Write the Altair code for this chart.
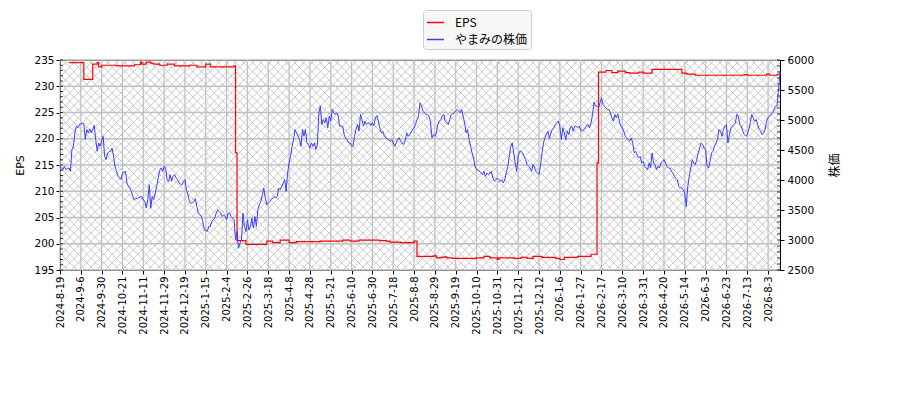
import json
import numpy as np
import pandas as pd
import altair as alt

# x axis: one point per trading day, a date label every 14 trading days
tick_labels = [
    "2024-8-19", "2024-9-6", "2024-9-30", "2024-10-21", "2024-11-11", "2024-11-29",
    "2024-12-19", "2025-1-15", "2025-2-4", "2025-2-26", "2025-3-18", "2025-4-8",
    "2025-4-28", "2025-5-21", "2025-6-10", "2025-6-30", "2025-7-18", "2025-8-8",
    "2025-8-29", "2025-9-19", "2025-10-10", "2025-10-31", "2025-11-21", "2025-12-12",
    "2026-1-6", "2026-1-27", "2026-2-17", "2026-3-10", "2026-3-31", "2026-4-20",
    "2026-5-14", "2026-6-3", "2026-6-23", "2026-7-13", "2026-8-3",
]
tick_step = 14

# stock price, one value per trading day
price = [
    4228, 4200, 4172, 4228, 4172, 4190, 4200, 4144, 4506, 4562,
    4785, 4897, 4869, 4925, 4935, 4941, 4941, 4674, 4841, 4785,
    4852, 4785, 4841, 4908, 4674, 4479, 4618, 4562, 4646, 4729,
    4395, 4339, 4451, 4470, 4479, 4534, 4395, 4228, 4144, 4060,
    4030, 4005, 4116, 4130, 4144, 3949, 3893, 3865, 3810, 3726,
    3670, 3690, 3698, 3698, 3726, 3726, 3670, 3643, 3531, 3670,
    3921, 3531, 3726, 3670, 3782, 3893, 4033, 4161, 4200, 4144,
    4228, 4200, 4005, 3977, 4089, 3977, 4060, 4089, 4033, 4005,
    3949, 3935, 3921, 3977, 4005, 3838, 3754, 3643, 3615, 3615,
    3643, 3687, 3559, 3448, 3420, 3392, 3308, 3169, 3160, 3141,
    3225, 3225, 3308, 3336, 3364, 3448, 3503, 3475, 3448, 3392,
    3420, 3392, 3336, 3448, 3448, 3392, 3364, 3336, 3002, 3141,
    2862, 2946, 3002, 3448, 3225, 3141, 3336, 3169, 3225, 3364,
    3197, 3392, 3225, 3503, 3587, 3643, 3754, 3865, 3700, 3587,
    3615, 3643, 3670, 3700, 3726, 3698, 3726, 3865, 3838, 3893,
    3949, 4005, 3810, 4116, 4284, 4395, 4562, 4674, 4841, 4785,
    4729, 4674, 4562, 4841, 4729, 4841, 4618, 4590, 4534, 4618,
    4562, 4618, 4506, 4590, 5120, 5231, 4925, 5008, 4952, 5036,
    4869, 5064, 4980, 5175, 5120, 5092, 5120, 5064, 4897, 4897,
    4897, 4757, 4702, 4674, 4618, 4618, 4562, 4562, 4729, 4841,
    4925, 4813, 5092, 5008, 4897, 4980, 4925, 4952, 4952, 4908,
    4952, 4908, 5036, 5075, 4980, 4869, 4785, 4813, 4740, 4702,
    4685, 4674, 4646, 4674, 4618, 4562, 4618, 4674, 4702, 4646,
    4618, 4590, 4646, 4785, 4729, 4757, 4800, 4841, 4869, 4925,
    5008, 5064, 5287, 5231, 5147, 5120, 5092, 5092, 5064, 4980,
    4702, 4757, 4729, 4785, 4925, 4980, 5008, 5064, 5092, 4980,
    4950, 4925, 5008, 5092, 5100, 5120, 5150, 5175, 5150, 5120,
    5175, 5064, 4952, 4785, 4841, 4674, 4562, 4451, 4367, 4228,
    4172, 4160, 4144, 4116, 4089, 4144, 4060, 4116, 4089, 4116,
    4144, 4033, 3977, 4005, 4033, 4010, 3977, 4005, 3949, 4005,
    4116, 4228, 4395, 4562, 4618, 4451, 4284, 4144, 4395, 4479,
    4479, 4451, 4395, 4339, 4256, 4230, 4200, 4144, 4260, 4200,
    4144, 4116, 4089, 4250, 4450, 4620, 4702, 4770, 4813, 4685,
    4785, 4841, 4869, 4925, 4960, 4980, 4897, 4674, 4869, 4785,
    4674, 4813, 4757, 4869, 4897, 4813, 4897, 4897, 4869, 4897,
    4830, 4813, 4841, 4869, 4908, 4925, 4869, 4952, 5092, 5298,
    5231, 5231, 5203, 5287, 5370, 5260, 5231, 5203, 5175, 5175,
    5120, 5036, 4980, 5092, 5036, 5092, 4980, 4897, 4869, 4813,
    4729, 4700, 4674, 4646, 4702, 4618, 4451, 4479, 4420, 4367,
    4395, 4284, 4311, 4228, 4200, 4172, 4284, 4200, 4451, 4284,
    4256, 4172, 4228, 4200, 4284, 4311, 4339, 4284, 4228, 4200,
    4200, 4144, 4116, 4060, 4030, 4005, 3893, 3866, 3866, 3838,
    3782, 3559, 3893, 4060, 4200, 4339, 4284, 4256, 4339, 4451,
    4534, 4618, 4590, 4534, 4506, 4228, 4200, 4311, 4451, 4479,
    4562, 4618, 4674, 4841, 4813, 4729, 4841, 4897, 4925, 4618,
    4757, 4869, 4897, 4925, 4952, 5092, 5064, 4925, 4897, 4813,
    4757, 4729, 4757, 4841, 4952, 5092, 5036, 4980, 5008, 4925,
    4841, 4813, 4757, 4785, 4841, 4980, 5036, 5064, 5092, 5120,
    5175, 5231, 5231, 5500, 5788,
]

# EPS: trading day where the value changes, and the new value
eps_day = [
    6, 16, 22, 25, 26, 28, 38, 50, 54, 55, 58, 61, 63, 67, 72, 77, 87, 92, 98, 101,
    117, 118, 119, 125, 139, 143, 148, 154, 159, 175, 190, 195, 201, 215, 219, 222,
    229, 238, 240, 251, 253, 256, 258, 260, 264, 280, 285, 289, 294, 295, 305, 310,
    314, 318, 324, 333, 336, 339, 348, 357, 361, 362, 367, 371, 375, 380, 383, 389,
    392, 398, 418, 421, 427, 460, 462, 475, 477, 482, 484,
]
eps_val = [
    234.5, 231.3, 234.2, 234.5, 233.7, 234.0, 233.9, 234.1, 234.6, 234.2, 234.6, 234.4,
    234.2, 234.0, 234.2, 233.9, 234.0, 233.7, 234.2, 233.7,
    233.9, 217.3, 200.6, 199.9, 200.5, 200.2, 200.7, 200.2, 200.4, 200.5, 200.7, 200.5,
    200.7, 200.6, 200.5, 200.3,
    200.2, 200.5, 197.6, 197.7, 197.3, 197.4, 197.5, 197.3, 197.2, 197.3, 197.6, 197.3,
    197.0, 197.3, 197.2, 197.4,
    197.2, 197.6, 197.4, 197.2, 197.0, 197.4, 197.6, 198.0, 215.4, 232.7, 233.0, 232.6,
    232.9, 232.6, 232.5, 232.7,
    232.5, 233.2, 232.5, 232.3, 232.1, 232.2, 232.1, 232.3, 232.1, 232.2, 232.2,
]

series_names = ["EPS", "やまみの株価"]
series_colors = ["#ff0000", "#3c3cff"]

eps_ticks = list(range(195, 236, 5))
eps_minor_ticks = list(range(195, 236, 1))
price_ticks = list(range(2500, 6001, 500))
price_minor_ticks = list(range(2500, 6001, 100))

W, H = 720, 210
x_max = len(price) - 1
tick_days = [i * tick_step for i in range(len(tick_labels))]

price_df = pd.DataFrame({"day": range(len(price)), "price": price, "series": series_names[1]})
eps_df = pd.DataFrame({"day": eps_day, "eps": eps_val, "series": series_names[0]})

# cross hatch of the plot background, 45 degree lines
step = 8.5 * x_max / W
span = H * x_max / W
starts = np.arange(-span, x_max + step, step)
hatch_df = pd.concat([
    pd.DataFrame({"hx": starts, "hx2": starts + span, "hy": 195, "hy2": 235}),
    pd.DataFrame({"hx": starts, "hx2": starts + span, "hy": 235, "hy2": 195}),
])

x_scale = alt.Scale(domain=[0, x_max], nice=False, zero=False)
eps_scale = alt.Scale(domain=[195, 235], nice=False, zero=False)
price_scale = alt.Scale(domain=[2500, 6000], nice=False, zero=False)
color_scale = alt.Scale(domain=series_names, range=series_colors)

x_axis = alt.Axis(
    values=tick_days,
    labelExpr=f"{json.dumps(tick_labels)}[round(datum.value / {tick_step})]",
    labelAngle=270, labelFontSize=10, labelOverlap=False, labelBound=False,
    grid=False, title=None, tickSize=4, labelPadding=2,
)
eps_axis = alt.Axis(values=eps_ticks, grid=False, title="EPS", orient="left",
                    tickSize=4, labelPadding=2, titlePadding=8)
price_axis = alt.Axis(values=price_ticks, format="d", grid=False, title="株価", orient="right",
                      tickSize=4, labelPadding=3, titlePadding=28, titleAngle=270,
                      titleFont="Noto Sans CJK JP", titleFontSize=12)

legend = alt.Legend(
    title=None, orient="none", legendX=363, legendY=-50,
    symbolType="stroke", symbolSize=289, symbolStrokeWidth=1.5,
    labelFont="Noto Sans CJK JP", labelFontSize=12, labelOffset=10,
    padding=3, rowPadding=1, strokeColor="#cccccc", fillColor="#f7f7f7", cornerRadius=3,
)

hatch = alt.Chart(hatch_df).mark_rule(color="#a0a0a0", strokeWidth=0.55, clip=True).encode(
    x=alt.X("hx:Q", scale=x_scale, axis=x_axis),
    x2="hx2:Q",
    y=alt.Y("hy:Q", scale=eps_scale, axis=eps_axis),
    y2="hy2:Q",
)

vgrid = alt.Chart(pd.DataFrame({"day": tick_days})).mark_rule(color="#c0c0c0", strokeWidth=1.3).encode(
    x=alt.X("day:Q", scale=x_scale, axis=x_axis)
)

hgrid = alt.Chart(pd.DataFrame({"eps": eps_ticks})).mark_rule(color="#c0c0c0", strokeWidth=1.3).encode(
    y=alt.Y("eps:Q", scale=eps_scale, axis=eps_axis)
)

eps_minor = alt.Chart(pd.DataFrame({"eps": eps_minor_ticks})).mark_rule(color="black", strokeWidth=0.8).encode(
    y=alt.Y("eps:Q", scale=eps_scale, axis=eps_axis),
    x=alt.value(0),
    x2=alt.value(3),
)

eps_line = alt.Chart(eps_df).mark_line(interpolate="step-after", strokeWidth=1.2).encode(
    x=alt.X("day:Q", scale=x_scale, axis=x_axis),
    y=alt.Y("eps:Q", scale=eps_scale, axis=eps_axis),
    color=alt.Color("series:N", scale=color_scale, legend=legend),
)

price_minor = alt.Chart(pd.DataFrame({"price": price_minor_ticks})).mark_rule(color="black", strokeWidth=0.8).encode(
    y=alt.Y("price:Q", scale=price_scale, axis=price_axis),
    x=alt.value(W - 3),
    x2=alt.value(W),
)

price_line = alt.Chart(price_df).mark_line(strokeWidth=1).encode(
    x=alt.X("day:Q", scale=x_scale, axis=x_axis),
    y=alt.Y("price:Q", scale=price_scale, axis=price_axis),
    color=alt.Color("series:N", scale=color_scale, legend=legend),
)

left = alt.layer(hatch, vgrid, hgrid, eps_minor, eps_line)
right = alt.layer(price_minor, price_line)

chart = alt.layer(left, right).resolve_scale(y="independent").properties(
    width=W, height=H,
    padding={"left": 52, "top": 52, "right": 112, "bottom": 110},
    autosize=alt.AutoSizeParams(type="none"),
).configure_view(
    stroke="black", strokeWidth=1
).configure_axis(
    domainColor="black", tickColor="black", labelColor="black", titleColor="black",
    labelFont="DejaVu Sans", labelFontSize=10.5, titleFont="DejaVu Sans",
    titleFontSize=11, titleFontWeight="normal",
)

chart.save("out.html", embed_options={"renderer": "svg", "actions": False})
